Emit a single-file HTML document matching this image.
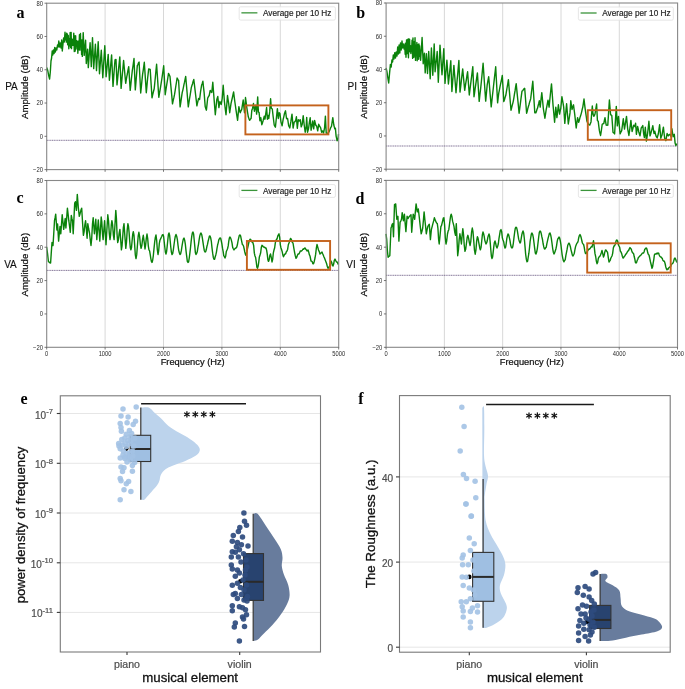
<!DOCTYPE html>
<html><head><meta charset="utf-8"><style>html,body{margin:0;padding:0;background:#fff;}svg{display:block;will-change:transform;}</style></head><body>
<svg width="685" height="689" viewBox="0 0 685 689" font-family="&quot;Liberation Sans&quot;, sans-serif">
<rect width="685" height="689" fill="#fff"/>
<line x1="105.10" y1="3.2" x2="105.10" y2="169.6" stroke="#d4d4d4" stroke-width="0.9"/>
<line x1="163.50" y1="3.2" x2="163.50" y2="169.6" stroke="#d4d4d4" stroke-width="0.9"/>
<line x1="221.90" y1="3.2" x2="221.90" y2="169.6" stroke="#d4d4d4" stroke-width="0.9"/>
<line x1="280.30" y1="3.2" x2="280.30" y2="169.6" stroke="#d4d4d4" stroke-width="0.9"/>
<line x1="46.7" y1="140.3" x2="338.7" y2="140.3" stroke="#6f5f86" stroke-width="0.85" stroke-dasharray="1.2,0.55"/>
<polyline points="46.70,67.50 47.60,70.00 48.80,76.00 49.60,79.00 50.30,72.00 51.00,61.00 51.60,58.00 52.20,51.00 52.80,55.00 53.40,50.00 54.10,53.50 54.70,47.50 55.40,52.00 56.00,48.00 56.80,50.00 57.50,45.00 58.20,47.00 58.80,41.00 59.60,47.00 60.30,43.00 61.00,48.00 61.70,40.00 62.30,51.00 63.00,44.00 63.60,38.00 64.30,42.00 65.00,32.30 65.70,40.00 66.00,35.46 66.31,42.17 66.67,33.12 67.13,41.97 67.35,33.97 67.67,44.82 68.27,35.52 68.81,48.73 69.27,38.58 69.73,45.74 70.15,32.53 70.63,47.44 71.13,32.35 71.47,48.64 72.02,39.38 72.51,45.24 73.00,38.90 73.37,45.32 73.76,33.13 74.32,51.61 74.59,36.07 75.17,51.16 75.63,35.77 76.05,48.98 76.40,40.35 76.84,46.21 77.32,41.26 77.86,53.19 78.34,41.22 78.89,49.90 79.45,34.68 79.94,50.16 80.48,33.45 80.81,46.61 81.35,40.26 81.60,54.49 81.98,40.07 82.31,56.42 83.20,32.60 84.20,55.40 84.90,47.60 85.60,40.20 86.30,63.50 86.95,56.51 87.60,49.30 88.30,67.60 88.90,59.38 89.50,50.99 90.10,42.70 90.70,54.48 91.30,66.60 91.90,52.28 92.50,37.60 93.10,53.28 93.70,68.60 94.27,60.47 94.83,52.34 95.40,44.20 96.50,70.60 97.07,60.81 97.63,51.04 98.20,41.70 98.85,57.62 99.50,73.70 100.10,65.95 100.70,57.84 101.30,50.30 102.05,64.18 102.80,77.70 103.47,66.91 104.13,56.27 104.80,45.80 105.45,60.98 106.10,76.70 106.80,69.57 107.50,61.98 108.20,54.40 108.80,67.58 109.40,80.30 110.13,71.90 110.87,63.09 111.60,54.90 112.30,70.55 113.00,86.40 113.67,77.60 114.33,68.57 115.00,60.00 116.00,59.50 117.00,84.90 117.56,79.57 118.12,73.62 118.68,67.89 119.24,62.69 119.80,56.90 120.45,72.42 121.10,88.40 121.72,81.68 122.35,74.42 122.97,67.51 123.60,60.50 124.30,68.01 125.00,75.69 125.70,83.30 126.25,79.94 126.80,76.67 127.35,73.99 127.90,70.60 128.70,66.60 129.45,78.34 130.20,90.40 130.90,83.97 131.60,77.03 132.30,70.60 132.87,66.85 133.43,62.77 134.00,58.50 134.65,74.35 135.30,89.90 135.97,81.96 136.63,73.75 137.30,65.60 137.90,64.54 138.50,62.97 139.10,62.00 139.90,77.49 140.70,93.00 141.33,87.00 141.97,80.42 142.60,74.40 143.17,70.62 143.73,66.57 144.30,62.30 144.97,72.38 145.63,82.49 146.30,92.70 146.95,85.57 147.60,78.50 148.70,68.90 149.45,69.08 150.20,69.40 150.80,79.16 151.40,88.27 152.00,97.80 152.73,94.48 153.47,91.49 154.20,88.70 154.80,82.73 155.40,76.80 156.00,70.40 156.60,64.30 157.15,72.54 157.70,80.83 158.25,89.20 158.80,97.30 159.55,92.83 160.30,88.70 161.10,83.67 161.90,78.50 162.50,74.30 163.10,70.11 163.70,65.80 164.45,80.06 165.20,94.70 165.77,90.80 166.33,87.21 166.90,83.60 167.70,78.76 168.50,73.40 169.25,74.86 170.00,76.50 170.62,83.41 171.25,90.08 171.88,96.81 172.50,103.90 173.17,100.57 173.83,97.95 174.50,94.70 175.15,90.69 175.80,86.27 176.45,82.29 177.10,78.00 177.85,79.36 178.60,80.50 179.35,93.94 180.10,106.90 180.80,102.44 181.50,97.38 182.20,92.70 182.78,90.29 183.37,87.58 183.95,84.65 184.53,82.13 185.12,79.19 185.70,76.50 186.35,84.03 187.00,91.55 187.65,99.53 188.30,106.90 188.90,102.84 189.50,98.92 190.10,95.50 190.70,91.62 191.30,87.60 191.93,85.56 192.55,83.75 193.18,81.26 193.80,79.50 194.42,84.63 195.04,89.93 195.66,95.29 196.28,100.42 196.90,105.90 197.47,103.18 198.03,100.87 198.60,98.50 199.60,99.50 200.60,91.40 201.60,85.30 202.25,83.49 202.90,81.20 203.50,87.09 204.10,92.40 205.20,106.60 205.80,108.55 206.40,110.20 207.05,104.09 207.70,98.00 208.45,96.60 209.20,95.50 210.20,90.40 211.00,91.68 211.80,92.40 212.80,82.30 213.80,95.50 214.55,105.12 215.30,114.70 216.05,107.24 216.80,99.50 217.80,96.50 218.90,107.60 219.90,101.50 220.55,102.77 221.20,104.60 222.20,98.50 223.20,85.30 223.80,93.23 224.40,101.50 225.20,108.30 226.00,114.70 226.75,105.28 227.50,95.50 228.10,99.78 228.70,103.60 229.70,112.70 230.35,108.21 231.00,103.60 231.70,100.51 232.40,97.50 233.00,94.75 233.60,91.90 234.20,96.91 234.80,101.50 235.45,105.98 236.10,110.70 236.85,115.52 237.60,120.30 238.25,113.32 238.90,106.60 239.55,109.81 240.20,112.70 240.95,110.91 241.70,109.70 242.45,104.96 243.20,100.00 243.85,106.62 244.50,112.70 245.50,97.50 246.15,102.26 246.80,107.60 247.55,112.26 248.30,116.80 248.95,118.64 249.60,120.30 250.50,118.80 251.10,118.50 251.80,110.40 252.60,108.20 253.50,103.50 254.40,111.20 255.10,107.50 255.80,105.30 256.60,114.10 257.70,96.90 258.40,111.90 259.10,112.60 259.90,120.70 260.80,117.70 261.80,124.70 262.45,122.91 263.10,120.70 264.20,116.30 265.00,119.20 265.70,114.10 266.60,107.50 267.40,119.20 268.10,115.50 268.80,118.50 269.70,111.90 270.60,98.80 271.30,108.20 272.30,109.00 273.20,117.00 274.20,125.00 274.80,126.15 275.40,127.20 276.40,117.70 277.40,108.60 278.30,118.50 279.20,112.60 279.90,113.40 280.45,117.60 281.00,122.10 281.55,123.89 282.10,125.80 283.20,119.20 283.85,116.58 284.50,113.40 285.50,110.80 286.50,118.50 287.05,118.74 287.60,118.50 288.70,125.80 289.25,126.68 289.80,128.00 290.90,121.40 291.45,117.51 292.00,114.10 292.55,120.81 293.10,128.00 294.20,122.10 295.00,121.70 295.70,120.40 296.40,116.80 297.30,128.30 298.30,119.70 299.30,121.00 300.30,119.70 301.20,126.90 302.20,124.30 303.20,115.80 304.20,125.00 305.20,132.20 306.20,126.30 306.70,117.40 307.50,132.20 308.50,128.90 309.50,121.70 310.20,117.70 311.10,130.20 312.10,125.00 312.70,121.00 313.70,128.90 314.60,120.40 315.70,125.00 316.70,126.30 317.70,130.90 318.70,124.30 319.60,126.30 320.60,127.60 321.60,132.20 322.60,130.90 323.60,132.90 324.60,127.60 325.40,116.10 326.20,132.90 327.20,133.50 328.20,132.90 329.20,131.50 330.20,128.90 330.85,127.32 331.50,126.30 332.15,121.97 332.80,117.70 333.80,125.00 334.80,128.90 335.40,128.30 336.10,136.10 337.10,140.70 338.00,138.80 338.50,134.20" fill="none" stroke="#0a820a" stroke-width="1.4" stroke-linejoin="round"/>
<rect x="245.4" y="105.4" width="83.00" height="29.00" fill="none" stroke="#c4621c" stroke-width="1.9"/>
<rect x="46.7" y="3.2" width="292.00" height="166.40" fill="none" stroke="#888888" stroke-width="1.1"/>
<line x1="44.50" y1="169.60" x2="46.7" y2="169.60" stroke="#555" stroke-width="0.8"/>
<text transform="translate(43.00,171.95) scale(1,1.12)" font-size="5.9" text-anchor="end" fill="#2a2a2a">−20</text>
<line x1="44.50" y1="136.32" x2="46.7" y2="136.32" stroke="#555" stroke-width="0.8"/>
<text transform="translate(43.00,138.67) scale(1,1.12)" font-size="5.9" text-anchor="end" fill="#2a2a2a">0</text>
<line x1="44.50" y1="103.04" x2="46.7" y2="103.04" stroke="#555" stroke-width="0.8"/>
<text transform="translate(43.00,105.39) scale(1,1.12)" font-size="5.9" text-anchor="end" fill="#2a2a2a">20</text>
<line x1="44.50" y1="69.76" x2="46.7" y2="69.76" stroke="#555" stroke-width="0.8"/>
<text transform="translate(43.00,72.11) scale(1,1.12)" font-size="5.9" text-anchor="end" fill="#2a2a2a">40</text>
<line x1="44.50" y1="36.48" x2="46.7" y2="36.48" stroke="#555" stroke-width="0.8"/>
<text transform="translate(43.00,38.83) scale(1,1.12)" font-size="5.9" text-anchor="end" fill="#2a2a2a">60</text>
<line x1="44.50" y1="3.20" x2="46.7" y2="3.20" stroke="#555" stroke-width="0.8"/>
<text transform="translate(43.00,5.55) scale(1,1.12)" font-size="5.9" text-anchor="end" fill="#2a2a2a">80</text>
<line x1="46.70" y1="169.6" x2="46.70" y2="171.80" stroke="#555" stroke-width="0.8"/>
<line x1="105.10" y1="169.6" x2="105.10" y2="171.80" stroke="#555" stroke-width="0.8"/>
<line x1="163.50" y1="169.6" x2="163.50" y2="171.80" stroke="#555" stroke-width="0.8"/>
<line x1="221.90" y1="169.6" x2="221.90" y2="171.80" stroke="#555" stroke-width="0.8"/>
<line x1="280.30" y1="169.6" x2="280.30" y2="171.80" stroke="#555" stroke-width="0.8"/>
<line x1="338.70" y1="169.6" x2="338.70" y2="171.80" stroke="#555" stroke-width="0.8"/>
<text transform="translate(27.8,87.20) rotate(-90)" font-size="9.65" text-anchor="middle" fill="#111" stroke="#111" stroke-width="0.22">Amplitude (dB)</text>
<rect x="239.2" y="6.8" width="96.20" height="13.30" rx="1.5" fill="#fff" fill-opacity="0.85" stroke="#e0e0e0" stroke-width="0.8"/>
<line x1="241.40" y1="12.85" x2="257.40" y2="12.85" stroke="#3a943a" stroke-width="1.3"/>
<text x="263.00" y="16.20" font-size="8.5" fill="#222" stroke="#222" stroke-width="0.18" textLength="68.4" lengthAdjust="spacingAndGlyphs">Average per 10 Hz</text>
<text x="16.6" y="17.9" font-family="&quot;Liberation Serif&quot;, serif" font-weight="bold" font-size="16" fill="#000">a</text>
<text x="5.2" y="90.00" font-size="10" fill="#111" stroke="#111" stroke-width="0.12">PA</text>
<line x1="444.40" y1="3.0" x2="444.40" y2="169.2" stroke="#d4d4d4" stroke-width="0.9"/>
<line x1="502.70" y1="3.0" x2="502.70" y2="169.2" stroke="#d4d4d4" stroke-width="0.9"/>
<line x1="561.00" y1="3.0" x2="561.00" y2="169.2" stroke="#d4d4d4" stroke-width="0.9"/>
<line x1="619.30" y1="3.0" x2="619.30" y2="169.2" stroke="#d4d4d4" stroke-width="0.9"/>
<line x1="386.1" y1="146.0" x2="677.6" y2="146.0" stroke="#6f5f86" stroke-width="0.85" stroke-dasharray="1.2,0.55"/>
<polyline points="386.10,67.90 387.00,72.00 388.00,79.00 388.70,83.00 389.50,74.00 390.40,64.40 391.20,67.00 391.90,60.00 392.60,62.00 393.30,55.00 394.00,59.00 394.80,52.70 395.50,58.00 396.20,52.00 397.00,56.00 397.70,47.00 398.40,54.00 399.10,45.00 399.80,53.00 400.50,43.00 401.20,50.00 402.00,41.00 402.70,48.00 403.40,44.00 403.70,44.20 404.16,49.09 404.68,45.31 405.18,54.31 405.41,43.19 405.99,57.33 406.55,39.89 406.95,53.75 407.38,39.60 407.60,51.00 407.93,39.10 408.44,57.69 408.96,38.75 409.42,51.62 409.64,39.47 409.94,51.68 410.53,45.94 410.86,53.51 411.28,45.79 411.58,51.06 412.07,40.08 412.62,58.41 412.98,37.93 413.26,54.58 413.59,43.48 413.81,57.36 414.16,41.67 414.69,55.95 415.03,37.70 415.52,60.42 416.11,45.08 416.62,53.38 416.84,42.55 417.20,60.74 417.43,45.54 417.71,53.60 418.01,44.56 418.58,59.34 418.93,43.89 419.35,56.29 419.61,45.81 420.14,55.33 420.60,60.20 421.35,49.12 422.10,37.50 423.20,63.70 423.80,58.23 424.40,53.20 425.20,72.90 425.80,63.06 426.40,53.80 426.95,63.95 427.50,73.50 428.10,62.31 428.70,51.50 429.45,64.87 430.20,78.70 430.80,63.44 431.40,48.00 432.10,61.56 432.80,75.30 433.50,59.83 434.20,43.90 435.10,71.80 435.80,64.87 436.50,58.54 437.20,51.50 437.75,66.74 438.30,82.20 438.87,69.89 439.43,57.73 440.00,45.10 440.67,55.08 441.33,65.09 442.00,74.70 442.60,66.12 443.20,57.03 443.80,48.60 444.40,66.23 445.00,83.40 445.63,75.72 446.27,67.82 446.90,60.20 447.65,71.91 448.40,84.00 449.00,78.41 449.60,72.45 450.20,66.86 450.80,60.80 451.90,91.50 452.57,82.96 453.23,74.38 453.90,65.40 454.60,74.54 455.30,83.72 456.00,92.70 456.58,86.31 457.16,79.64 457.74,73.59 458.32,66.75 458.90,60.40 459.45,76.42 460.00,92.10 460.68,86.57 461.35,80.59 462.02,74.49 462.70,68.90 463.37,76.23 464.03,83.27 464.70,90.30 465.28,86.41 465.86,82.63 466.44,79.22 467.02,75.22 467.60,71.80 468.17,79.79 468.73,87.27 469.30,95.00 469.88,90.28 470.47,85.48 471.05,80.90 471.63,76.32 472.22,71.22 472.80,66.60 473.40,81.57 474.00,96.70 474.57,92.78 475.13,88.65 475.70,84.86 476.27,80.86 476.83,76.83 477.40,72.90 478.00,82.50 478.60,91.92 479.20,101.40 479.93,94.45 480.67,88.30 481.40,81.30 481.97,75.21 482.53,69.26 483.10,63.30 483.75,72.69 484.40,82.46 485.05,91.92 485.70,101.10 486.45,92.96 487.20,84.80 487.95,80.69 488.70,76.70 489.32,84.01 489.95,92.04 490.57,99.15 491.20,106.90 491.76,101.92 492.32,96.78 492.89,91.76 493.45,86.76 494.01,81.65 494.57,76.55 495.14,71.83 495.70,66.80 496.33,78.98 496.97,90.89 497.60,102.80 498.20,97.67 498.80,92.90 499.38,90.12 499.97,86.83 500.55,84.15 501.13,81.50 501.72,78.65 502.30,75.50 503.05,88.53 503.80,101.60 504.47,99.71 505.13,97.40 505.80,95.30 506.45,91.39 507.10,87.50 507.75,83.82 508.40,79.60 509.05,87.42 509.70,94.93 510.35,102.76 511.00,110.30 511.57,108.09 512.15,105.61 512.72,103.57 513.30,101.10 513.88,97.81 514.46,94.21 515.04,90.93 515.62,86.89 516.20,83.70 516.78,89.60 517.36,95.58 517.94,101.30 518.52,107.10 519.10,113.20 519.68,108.92 520.26,104.36 520.84,99.86 521.42,95.33 522.00,91.20 522.67,90.76 523.35,89.66 524.03,88.80 524.70,88.30 525.33,96.43 525.97,104.75 526.60,113.20 527.20,111.24 527.80,108.66 528.40,106.54 529.00,104.50 529.57,102.33 530.13,100.62 530.70,98.70 531.40,92.72 532.10,87.01 532.80,81.30 533.47,91.91 534.13,102.49 534.80,112.70 535.80,112.90 536.37,111.57 536.93,109.56 537.50,108.30 538.10,105.73 538.70,103.51 539.30,100.80 540.20,107.10 541.00,99.57 541.80,92.60 542.55,100.27 543.30,108.30 544.10,113.24 544.90,118.20 545.55,113.78 546.20,109.50 546.80,106.55 547.40,103.43 548.00,100.20 548.55,103.63 549.10,107.10 549.70,100.90 550.30,95.00 550.90,89.29 551.50,83.90 552.25,94.21 553.00,104.80 553.80,113.24 554.60,122.20 555.20,114.75 555.80,107.10 556.35,112.14 556.90,117.60 557.65,111.43 558.40,104.80 559.00,109.54 559.60,114.10 560.20,110.93 560.80,108.30 561.35,102.50 561.90,96.70 562.50,100.23 563.10,103.36 563.70,107.10 564.80,123.40 565.40,116.83 566.00,109.98 566.60,103.70 567.17,110.63 567.73,116.94 568.30,124.00 568.87,120.38 569.43,116.89 570.00,112.90 570.80,100.80 571.40,105.36 572.00,109.50 572.75,106.99 573.50,104.80 574.10,109.47 574.70,114.10 575.45,120.83 576.20,128.00 576.90,122.71 577.60,117.60 578.15,120.12 578.70,122.20 579.30,120.37 579.90,117.86 580.50,116.05 581.10,114.10 581.67,111.85 582.23,109.24 582.80,107.10 583.40,103.23 584.00,99.00 584.55,103.89 585.10,108.30 585.70,112.60 586.30,116.75 586.90,121.10 587.47,122.44 588.03,123.37 588.60,124.50 589.20,124.61 589.80,125.10 590.40,123.37 591.00,121.90 591.65,113.75 592.30,106.00 593.00,114.00 593.80,116.40 594.40,115.40 595.00,114.00 595.80,109.01 596.60,104.00 597.40,120.40 598.20,121.20 598.80,126.07 599.40,130.70 600.00,133.29 600.60,135.50 601.40,130.18 602.20,124.30 603.00,123.71 603.80,123.50 604.40,120.49 605.00,117.60 605.60,121.57 606.20,125.10 607.00,125.26 607.80,125.10 608.60,112.48 609.40,100.00 610.00,107.49 610.60,114.80 611.20,115.02 611.80,115.60 612.40,123.75 613.00,132.30 613.80,132.83 614.60,133.90 615.17,124.66 615.73,115.41 616.30,106.40 617.30,125.90 617.90,121.16 618.50,116.40 619.30,125.43 620.10,133.90 620.90,132.09 621.70,130.70 622.50,124.78 623.30,118.80 623.90,124.17 624.50,129.10 625.17,124.93 625.83,120.65 626.50,116.40 627.10,122.91 627.70,129.10 628.30,132.01 628.90,135.50 629.57,130.74 630.23,125.55 630.90,120.40 631.50,126.13 632.10,131.50 632.90,128.50 633.70,125.10 634.35,125.66 635.00,126.70 635.60,123.20 636.40,134.30 637.00,130.09 637.60,126.40 638.20,129.01 638.80,132.00 639.40,133.95 640.00,135.90 640.60,132.21 641.20,128.00 642.00,127.05 642.80,125.60 643.60,133.50 644.40,137.50 645.30,127.20 645.85,134.10 646.40,141.10 647.00,137.37 647.60,133.50 648.25,127.49 648.90,121.20 649.45,128.45 650.00,135.90 650.60,134.23 651.20,132.00 652.00,129.07 652.80,125.60 653.40,129.69 654.00,133.50 654.80,131.20 655.40,133.79 656.00,135.90 656.60,137.08 657.20,137.90 657.80,135.79 658.40,133.50 659.00,129.04 659.60,124.80 660.20,131.42 660.80,138.30 661.40,136.54 662.00,135.10 662.70,130.88 663.40,127.20 664.05,133.01 664.70,138.30 665.30,139.38 665.90,140.70 666.50,136.81 667.10,133.50 667.70,134.59 668.30,135.90 669.10,134.86 669.90,134.30 670.50,135.47 671.10,136.70 671.90,128.80 672.50,132.65 673.10,136.70 673.70,135.31 674.30,134.30 675.10,143.10 675.90,145.50 676.50,144.49 677.10,143.50" fill="none" stroke="#0a820a" stroke-width="1.4" stroke-linejoin="round"/>
<rect x="587.8" y="110.2" width="83.40" height="29.60" fill="none" stroke="#c4621c" stroke-width="1.9"/>
<rect x="386.1" y="3.0" width="291.50" height="166.20" fill="none" stroke="#888888" stroke-width="1.1"/>
<line x1="383.90" y1="169.20" x2="386.1" y2="169.20" stroke="#555" stroke-width="0.8"/>
<text transform="translate(382.40,171.55) scale(1,1.12)" font-size="5.9" text-anchor="end" fill="#2a2a2a">−20</text>
<line x1="383.90" y1="135.96" x2="386.1" y2="135.96" stroke="#555" stroke-width="0.8"/>
<text transform="translate(382.40,138.31) scale(1,1.12)" font-size="5.9" text-anchor="end" fill="#2a2a2a">0</text>
<line x1="383.90" y1="102.72" x2="386.1" y2="102.72" stroke="#555" stroke-width="0.8"/>
<text transform="translate(382.40,105.07) scale(1,1.12)" font-size="5.9" text-anchor="end" fill="#2a2a2a">20</text>
<line x1="383.90" y1="69.48" x2="386.1" y2="69.48" stroke="#555" stroke-width="0.8"/>
<text transform="translate(382.40,71.83) scale(1,1.12)" font-size="5.9" text-anchor="end" fill="#2a2a2a">40</text>
<line x1="383.90" y1="36.24" x2="386.1" y2="36.24" stroke="#555" stroke-width="0.8"/>
<text transform="translate(382.40,38.59) scale(1,1.12)" font-size="5.9" text-anchor="end" fill="#2a2a2a">60</text>
<line x1="383.90" y1="3.00" x2="386.1" y2="3.00" stroke="#555" stroke-width="0.8"/>
<text transform="translate(382.40,5.35) scale(1,1.12)" font-size="5.9" text-anchor="end" fill="#2a2a2a">80</text>
<line x1="386.10" y1="169.2" x2="386.10" y2="171.40" stroke="#555" stroke-width="0.8"/>
<line x1="444.40" y1="169.2" x2="444.40" y2="171.40" stroke="#555" stroke-width="0.8"/>
<line x1="502.70" y1="169.2" x2="502.70" y2="171.40" stroke="#555" stroke-width="0.8"/>
<line x1="561.00" y1="169.2" x2="561.00" y2="171.40" stroke="#555" stroke-width="0.8"/>
<line x1="619.30" y1="169.2" x2="619.30" y2="171.40" stroke="#555" stroke-width="0.8"/>
<line x1="677.60" y1="169.2" x2="677.60" y2="171.40" stroke="#555" stroke-width="0.8"/>
<text transform="translate(367.2,86.90) rotate(-90)" font-size="9.65" text-anchor="middle" fill="#111" stroke="#111" stroke-width="0.22">Amplitude (dB)</text>
<rect x="578.4" y="7.0" width="94.90" height="13.20" rx="1.5" fill="#fff" fill-opacity="0.85" stroke="#e0e0e0" stroke-width="0.8"/>
<line x1="580.60" y1="13.00" x2="596.60" y2="13.00" stroke="#3a943a" stroke-width="1.3"/>
<text x="602.20" y="16.35" font-size="8.5" fill="#222" stroke="#222" stroke-width="0.18" textLength="68.4" lengthAdjust="spacingAndGlyphs">Average per 10 Hz</text>
<text x="356.2" y="17.5" font-family="&quot;Liberation Serif&quot;, serif" font-weight="bold" font-size="16" fill="#000">b</text>
<text x="347.6" y="90.20" font-size="10" fill="#111" stroke="#111" stroke-width="0.12">PI</text>
<line x1="105.10" y1="180.5" x2="105.10" y2="347.3" stroke="#d4d4d4" stroke-width="0.9"/>
<line x1="163.50" y1="180.5" x2="163.50" y2="347.3" stroke="#d4d4d4" stroke-width="0.9"/>
<line x1="221.90" y1="180.5" x2="221.90" y2="347.3" stroke="#d4d4d4" stroke-width="0.9"/>
<line x1="280.30" y1="180.5" x2="280.30" y2="347.3" stroke="#d4d4d4" stroke-width="0.9"/>
<line x1="46.7" y1="270.4" x2="338.7" y2="270.4" stroke="#6f5f86" stroke-width="0.85" stroke-dasharray="1.2,0.55"/>
<polyline points="46.60,246.90 47.60,254.20 48.40,261.50 49.50,262.50 50.60,263.00 51.30,252.38 52.00,242.50 53.00,245.50 53.75,233.45 54.50,220.70 55.10,217.66 55.70,214.10 56.30,222.00 56.90,230.00 57.60,224.00 58.60,241.10 59.30,233.56 60.00,226.50 60.80,233.80 61.50,224.30 62.20,214.80 62.95,222.05 63.70,229.40 64.45,224.10 65.20,218.50 65.90,228.00 66.65,218.39 67.40,208.20 68.10,214.04 68.80,220.70 69.55,226.03 70.30,232.30 71.30,215.50 71.90,218.44 72.50,220.70 73.20,233.80 73.95,218.38 74.70,203.10 75.40,201.70 76.40,210.40 77.30,194.40 78.30,207.50 79.30,216.30 79.90,214.36 80.50,211.90 81.10,209.55 81.70,208.20 82.70,225.00 83.40,235.30 84.13,231.60 84.87,224.57 85.60,220.70 86.35,229.18 87.10,238.20 87.80,223.60 88.65,228.75 89.50,233.00 90.25,239.65 91.00,245.50 91.73,238.08 92.47,224.18 93.20,217.70 93.80,225.79 94.40,233.80 95.10,226.94 95.80,219.20 96.80,239.60 97.55,229.63 98.30,219.90 99.05,230.22 99.80,241.10 100.50,228.97 101.20,217.00 101.83,222.18 102.47,233.67 103.10,239.60 103.85,230.09 104.60,220.70 105.30,232.70 106.00,244.70 106.90,229.48 107.80,214.80 108.53,220.73 109.27,233.12 110.00,239.60 110.63,234.83 111.27,225.21 111.90,220.70 112.63,224.95 113.37,235.21 114.10,239.60 114.95,225.06 115.80,210.40 116.43,218.59 117.07,234.24 117.70,242.60 118.43,239.79 119.17,233.06 119.90,229.40 120.65,239.27 121.40,249.90 122.05,245.88 122.70,236.97 123.35,227.66 124.00,223.60 124.90,236.44 125.80,248.40 126.50,242.12 127.20,230.13 127.90,223.60 128.50,226.28 129.10,232.49 129.70,240.90 130.30,247.77 130.90,249.90 131.50,247.57 132.10,240.76 132.70,234.37 133.30,231.60 133.98,235.09 134.65,244.84 135.32,254.94 136.00,258.60 136.72,254.66 137.45,245.12 138.18,236.20 138.90,232.30 139.63,236.53 140.37,244.55 141.10,248.40 141.83,245.67 142.57,239.11 143.30,235.30 144.15,241.62 145.00,249.00 145.67,244.75 146.33,238.15 147.00,234.00 147.67,238.28 148.33,246.20 149.00,250.00 149.60,250.96 150.20,254.45 150.80,258.31 151.40,261.40 152.00,262.50 152.67,260.25 153.33,255.54 154.00,248.62 154.67,242.14 155.33,237.44 156.00,235.00 156.67,240.41 157.33,249.68 158.00,254.50 158.67,250.81 159.33,243.35 160.00,240.00 160.60,238.92 161.20,237.53 161.80,236.36 162.40,234.81 163.00,234.50 163.60,236.22 164.20,241.71 164.80,247.29 165.40,252.21 166.00,254.00 166.60,251.68 167.20,246.17 167.80,240.05 168.40,234.57 169.00,233.00 169.60,235.07 170.20,241.03 170.80,247.28 171.40,252.07 172.00,254.50 172.67,253.63 173.33,249.86 174.00,244.78 174.67,239.99 175.33,236.16 176.00,234.50 176.67,236.19 177.33,239.32 178.00,245.08 178.67,250.05 179.33,252.75 180.00,254.50 180.67,253.70 181.33,250.63 182.00,246.20 182.67,242.16 183.33,239.09 184.00,238.00 184.67,240.15 185.33,244.13 186.00,250.65 186.67,256.20 187.33,261.32 188.00,262.50 188.62,261.82 189.25,257.99 189.88,253.17 190.50,247.75 191.12,241.68 191.75,236.45 192.38,232.83 193.00,232.00 193.60,233.94 194.20,240.01 194.80,246.33 195.40,252.84 196.00,254.50 196.62,253.40 197.25,251.85 197.88,247.64 198.50,244.30 199.12,239.88 199.75,236.15 200.38,233.84 201.00,233.00 201.67,234.45 202.33,237.86 203.00,242.27 203.67,246.90 204.33,250.74 205.00,252.00 205.62,251.91 206.25,249.80 206.88,246.55 207.50,244.38 208.12,241.21 208.75,238.83 209.38,236.24 210.00,236.00 210.67,237.85 211.33,241.30 212.00,247.83 212.67,253.20 213.33,257.41 214.00,259.30 214.60,259.23 215.20,256.79 215.80,254.94 216.40,252.37 217.00,248.34 217.60,245.01 218.20,242.85 218.80,239.94 219.40,238.78 220.00,238.00 220.62,238.20 221.25,240.76 221.88,243.78 222.50,248.21 223.12,251.33 223.75,255.62 224.38,256.67 225.00,258.00 225.67,256.28 226.33,251.43 227.00,250.00 227.60,248.47 228.20,245.88 228.80,241.08 229.40,237.86 230.00,237.00 230.67,238.10 231.33,240.11 232.00,242.95 232.67,247.34 233.33,248.71 234.00,250.00 234.67,248.94 235.33,248.31 236.00,248.00 236.67,247.27 237.33,245.04 238.00,241.04 238.67,238.05 239.33,235.31 240.00,235.00 240.60,235.89 241.20,238.77 241.80,241.83 242.40,244.53 243.00,245.00 243.60,246.29 244.20,248.99 244.80,251.99 245.40,254.28 246.00,255.30 248.67,243.24 249.33,240.70 250.00,239.20 250.60,239.41 251.20,240.64 251.80,241.84 252.40,242.12 253.00,243.00 253.67,245.67 254.33,253.15 255.00,256.00 255.62,257.51 256.25,261.83 256.88,267.09 257.50,268.30 258.12,266.32 258.75,262.05 259.38,256.92 260.00,255.00 260.67,252.74 261.33,247.31 262.00,245.30 262.67,245.89 263.33,247.02 264.00,247.00 264.67,247.28 265.33,248.04 266.00,248.00 266.62,250.17 267.25,254.18 267.88,259.75 268.50,261.40 269.17,259.66 269.83,255.61 270.50,254.00 271.25,257.44 272.00,262.00 272.67,259.44 273.33,252.97 274.00,250.00 274.67,247.76 275.33,242.95 276.00,240.00 276.60,239.66 277.20,238.36 277.80,235.82 278.40,234.75 279.00,233.80 279.67,237.28 280.33,244.97 281.00,248.00 281.62,249.74 282.25,251.92 282.88,255.07 283.50,256.80 284.25,255.06 285.00,254.00 285.67,253.81 286.33,251.67 287.00,251.00 287.67,249.15 288.33,244.76 289.00,243.00 289.75,240.71 290.50,238.40 291.12,238.94 291.75,240.52 292.38,242.43 293.00,243.00 293.75,247.60 294.50,252.00 295.25,255.64 296.00,258.30 296.67,257.44 297.33,255.59 298.00,254.00 298.60,254.14 299.20,253.55 299.80,252.24 300.40,250.88 301.00,251.00 301.67,250.93 302.33,250.06 303.00,249.00 303.67,249.24 304.33,248.33 305.00,248.00 305.67,249.01 306.33,249.90 307.00,251.00 308.00,250.00 308.67,251.90 309.33,254.59 310.00,256.00 311.00,261.00 311.62,261.14 312.25,261.83 312.88,263.73 313.50,263.70 314.25,261.44 315.00,258.00 315.67,254.13 316.33,248.24 317.00,244.50 317.75,247.14 318.50,250.00 319.25,251.58 320.00,254.00 320.67,253.25 321.33,252.82 322.00,252.00 322.67,253.70 323.33,255.20 324.00,257.00 324.67,258.39 325.33,260.20 326.00,262.00 326.67,263.84 327.33,266.52 328.00,268.30 328.75,267.61 329.50,266.00 330.25,264.08 331.00,261.00 331.67,262.26 332.33,265.35 333.00,266.00 333.67,264.02 334.33,260.24 335.00,259.00 335.75,260.62 336.50,262.00 337.17,262.06 337.83,263.51 338.50,264.50" fill="none" stroke="#0a820a" stroke-width="1.4" stroke-linejoin="round"/>
<rect x="246.9" y="241.0" width="83.20" height="28.80" fill="none" stroke="#c4621c" stroke-width="1.9"/>
<rect x="46.7" y="180.5" width="292.00" height="166.80" fill="none" stroke="#888888" stroke-width="1.1"/>
<line x1="44.50" y1="347.30" x2="46.7" y2="347.30" stroke="#555" stroke-width="0.8"/>
<text transform="translate(43.00,349.65) scale(1,1.12)" font-size="5.9" text-anchor="end" fill="#2a2a2a">−20</text>
<line x1="44.50" y1="313.94" x2="46.7" y2="313.94" stroke="#555" stroke-width="0.8"/>
<text transform="translate(43.00,316.29) scale(1,1.12)" font-size="5.9" text-anchor="end" fill="#2a2a2a">0</text>
<line x1="44.50" y1="280.58" x2="46.7" y2="280.58" stroke="#555" stroke-width="0.8"/>
<text transform="translate(43.00,282.93) scale(1,1.12)" font-size="5.9" text-anchor="end" fill="#2a2a2a">20</text>
<line x1="44.50" y1="247.22" x2="46.7" y2="247.22" stroke="#555" stroke-width="0.8"/>
<text transform="translate(43.00,249.57) scale(1,1.12)" font-size="5.9" text-anchor="end" fill="#2a2a2a">40</text>
<line x1="44.50" y1="213.86" x2="46.7" y2="213.86" stroke="#555" stroke-width="0.8"/>
<text transform="translate(43.00,216.21) scale(1,1.12)" font-size="5.9" text-anchor="end" fill="#2a2a2a">60</text>
<line x1="44.50" y1="180.50" x2="46.7" y2="180.50" stroke="#555" stroke-width="0.8"/>
<text transform="translate(43.00,182.85) scale(1,1.12)" font-size="5.9" text-anchor="end" fill="#2a2a2a">80</text>
<line x1="46.70" y1="347.3" x2="46.70" y2="349.50" stroke="#555" stroke-width="0.8"/>
<text transform="translate(46.70,356.10) scale(1,1.15)" font-size="5.8" text-anchor="middle" fill="#2a2a2a">0</text>
<line x1="105.10" y1="347.3" x2="105.10" y2="349.50" stroke="#555" stroke-width="0.8"/>
<text transform="translate(105.10,356.10) scale(1,1.15)" font-size="5.8" text-anchor="middle" fill="#2a2a2a">1000</text>
<line x1="163.50" y1="347.3" x2="163.50" y2="349.50" stroke="#555" stroke-width="0.8"/>
<text transform="translate(163.50,356.10) scale(1,1.15)" font-size="5.8" text-anchor="middle" fill="#2a2a2a">2000</text>
<line x1="221.90" y1="347.3" x2="221.90" y2="349.50" stroke="#555" stroke-width="0.8"/>
<text transform="translate(221.90,356.10) scale(1,1.15)" font-size="5.8" text-anchor="middle" fill="#2a2a2a">3000</text>
<line x1="280.30" y1="347.3" x2="280.30" y2="349.50" stroke="#555" stroke-width="0.8"/>
<text transform="translate(280.30,356.10) scale(1,1.15)" font-size="5.8" text-anchor="middle" fill="#2a2a2a">4000</text>
<line x1="338.70" y1="347.3" x2="338.70" y2="349.50" stroke="#555" stroke-width="0.8"/>
<text transform="translate(338.70,356.10) scale(1,1.15)" font-size="5.8" text-anchor="middle" fill="#2a2a2a">5000</text>
<text x="192.70" y="364.90" font-size="9.3" text-anchor="middle" fill="#111" stroke="#111" stroke-width="0.22">Frequency (Hz)</text>
<text transform="translate(27.8,264.70) rotate(-90)" font-size="9.65" text-anchor="middle" fill="#111" stroke="#111" stroke-width="0.22">Amplitude (dB)</text>
<rect x="239.2" y="184.6" width="96.20" height="12.80" rx="1.5" fill="#fff" fill-opacity="0.85" stroke="#e0e0e0" stroke-width="0.8"/>
<line x1="241.40" y1="190.40" x2="257.40" y2="190.40" stroke="#3a943a" stroke-width="1.3"/>
<text x="263.00" y="193.75" font-size="8.5" fill="#222" stroke="#222" stroke-width="0.18" textLength="68.4" lengthAdjust="spacingAndGlyphs">Average per 10 Hz</text>
<text x="16.4" y="203.3" font-family="&quot;Liberation Serif&quot;, serif" font-weight="bold" font-size="16" fill="#000">c</text>
<text x="4.2" y="268.20" font-size="10" fill="#111" stroke="#111" stroke-width="0.12">VA</text>
<line x1="444.38" y1="180.4" x2="444.38" y2="347.3" stroke="#d4d4d4" stroke-width="0.9"/>
<line x1="502.66" y1="180.4" x2="502.66" y2="347.3" stroke="#d4d4d4" stroke-width="0.9"/>
<line x1="560.94" y1="180.4" x2="560.94" y2="347.3" stroke="#d4d4d4" stroke-width="0.9"/>
<line x1="619.22" y1="180.4" x2="619.22" y2="347.3" stroke="#d4d4d4" stroke-width="0.9"/>
<line x1="386.1" y1="275.3" x2="677.5" y2="275.3" stroke="#6f5f86" stroke-width="0.85" stroke-dasharray="1.2,0.55"/>
<polyline points="386.00,233.80 386.70,239.39 387.40,250.95 388.10,257.20 388.95,256.35 389.80,255.70 391.00,228.00 391.60,226.55 392.20,224.27 392.80,223.60 393.50,236.70 394.50,204.60 395.70,203.90 396.80,219.20 397.90,216.30 398.90,241.10 399.50,231.50 400.10,222.10 400.80,221.07 401.50,219.20 402.20,212.60 403.40,220.70 404.40,214.10 405.15,223.15 405.90,231.60 406.50,224.22 407.10,216.30 408.10,218.50 408.80,217.12 409.50,216.30 410.25,215.59 411.00,214.80 411.70,232.30 412.45,222.98 413.20,214.10 413.95,216.32 414.70,219.20 415.40,211.16 416.10,203.90 417.30,211.90 418.30,209.00 419.05,215.26 419.80,222.10 420.50,228.38 421.20,233.80 421.95,231.23 422.70,228.00 423.40,220.26 424.10,211.90 424.85,219.50 425.60,226.50 426.30,233.80 427.05,229.84 427.80,226.50 428.55,225.21 429.30,224.30 430.40,239.60 431.40,229.40 432.15,226.63 432.90,223.60 433.65,220.88 434.40,217.70 435.10,219.90 435.80,221.40 436.55,222.88 437.30,223.60 437.93,228.29 438.57,239.01 439.20,244.00 440.05,235.42 440.90,226.50 441.50,225.67 442.10,223.14 442.70,220.71 443.30,218.13 443.90,217.70 444.60,224.71 445.30,237.79 446.00,244.00 446.73,240.77 447.47,233.98 448.20,230.90 448.80,229.70 449.40,225.17 450.00,220.29 450.60,216.05 451.20,214.10 451.90,216.48 452.60,221.14 453.30,223.60 454.03,226.62 454.77,232.31 455.50,235.30 456.30,223.60 457.00,239.31 457.70,255.70 458.43,250.03 459.17,239.59 459.90,233.80 460.65,238.44 461.40,244.00 462.10,235.90 462.80,228.70 463.53,234.48 464.27,245.43 465.00,251.30 465.73,248.99 466.45,243.27 467.17,237.49 467.90,235.30 468.63,238.35 469.37,242.65 470.10,245.50 470.83,241.04 471.57,232.08 472.30,228.00 473.02,231.97 473.75,240.88 474.48,250.22 475.20,254.20 475.93,250.07 476.67,240.90 477.40,236.70 478.00,238.02 478.60,241.66 479.20,244.94 479.80,248.20 480.40,249.90 481.05,247.43 481.70,241.24 482.35,234.98 483.00,232.00 483.60,233.68 484.20,236.43 484.80,240.36 485.40,242.29 486.00,244.00 486.60,243.00 487.20,241.08 487.80,237.63 488.40,235.44 489.00,234.00 489.60,235.88 490.20,242.43 490.80,249.73 491.40,256.21 492.00,258.50 492.60,256.92 493.20,251.87 493.80,246.71 494.40,242.41 495.00,241.00 495.67,243.25 496.33,246.57 497.00,248.00 497.67,246.36 498.33,243.76 499.00,238.37 499.67,234.34 500.33,230.38 501.00,229.60 501.67,231.60 502.33,237.85 503.00,240.00 503.67,241.65 504.33,245.66 505.00,248.00 505.60,247.24 506.20,243.61 506.80,238.58 507.40,235.89 508.00,234.00 508.67,234.98 509.33,237.71 510.00,240.65 510.67,245.03 511.33,247.29 512.00,248.00 512.67,247.17 513.33,243.27 514.00,237.36 514.67,232.23 515.33,228.19 516.00,227.20 516.67,227.83 517.33,230.63 518.00,234.86 518.67,239.17 519.33,241.35 520.00,243.00 520.60,242.07 521.20,238.66 521.80,234.92 522.40,232.53 523.00,231.00 523.67,233.04 524.33,238.48 525.00,246.38 525.67,254.35 526.33,259.21 527.00,261.80 527.62,261.27 528.25,257.01 528.88,253.21 529.50,247.81 530.12,241.31 530.75,237.56 531.38,233.94 532.00,233.00 532.67,234.50 533.33,237.66 534.00,242.96 534.67,248.37 535.33,253.14 536.00,254.00 536.67,252.10 537.33,248.56 538.00,243.02 538.67,237.28 539.33,232.35 540.00,231.00 540.62,231.51 541.25,233.67 541.88,236.89 542.50,239.53 543.12,243.74 543.75,246.72 544.38,248.75 545.00,249.00 545.62,247.83 546.25,247.19 546.88,243.57 547.50,240.81 548.12,238.07 548.75,235.84 549.38,233.42 550.00,233.00 550.67,234.92 551.33,238.30 552.00,243.27 552.67,248.53 553.33,252.21 554.00,254.00 554.62,252.85 555.25,251.09 555.88,248.98 556.50,246.10 557.12,241.84 557.75,238.95 558.38,238.23 559.00,237.00 559.62,237.98 560.25,240.52 560.88,244.34 561.50,249.51 562.12,254.54 562.75,258.11 563.38,260.76 564.00,261.80 564.62,260.55 565.25,259.55 565.88,255.44 566.50,252.39 567.12,249.21 567.75,245.31 568.38,243.99 569.00,243.00 569.67,244.41 570.33,246.41 571.00,249.85 571.67,252.28 572.33,255.05 573.00,256.00 573.67,254.71 574.33,253.16 575.00,249.25 575.67,246.19 576.33,244.47 577.00,243.00 577.60,242.62 578.20,240.67 578.80,237.45 579.40,235.39 580.00,234.60 580.60,235.77 581.20,237.82 581.80,240.50 582.40,242.99 583.00,244.00 583.60,244.50 584.20,247.20 584.80,250.93 585.40,253.33 586.00,253.70 588.25,249.85 589.00,249.00 589.60,249.20 590.20,248.29 590.80,247.40 591.40,246.59 592.00,247.00 592.75,244.05 593.50,240.70 594.25,247.16 595.00,253.70 595.67,256.51 596.33,261.05 597.00,263.70 597.67,262.35 598.33,258.40 599.00,257.00 599.75,256.36 600.50,255.00 601.25,253.03 602.00,250.50 602.75,253.65 603.50,257.00 604.17,255.30 604.83,251.97 605.50,250.00 606.17,250.13 606.83,251.56 607.50,252.00 608.25,257.37 609.00,262.00 609.60,261.15 610.20,260.29 610.80,258.30 611.40,256.99 612.00,256.00 612.67,253.30 613.33,248.01 614.00,246.00 614.60,245.79 615.20,244.29 615.80,242.01 616.40,240.09 617.00,240.00 617.67,241.14 618.33,244.66 619.00,246.00 619.67,247.25 620.33,251.04 621.00,252.00 621.67,253.61 622.33,256.14 623.00,258.00 623.60,257.80 624.20,256.45 624.80,255.90 625.40,254.87 626.00,254.00 626.67,253.27 627.33,251.92 628.00,251.00 628.67,250.39 629.33,248.82 630.00,247.60 630.60,248.69 631.20,248.90 631.80,250.97 632.40,252.61 633.00,253.00 633.60,253.71 634.20,256.53 634.80,258.99 635.40,262.41 636.00,262.90 636.60,262.37 637.20,260.40 637.80,259.23 638.40,257.34 639.00,257.00 639.67,256.14 640.33,255.48 641.00,255.00 641.67,254.07 642.33,253.15 643.00,253.00 643.60,252.96 644.20,251.51 644.80,249.14 645.40,248.81 646.00,248.00 646.60,248.09 647.20,250.22 647.80,253.07 648.40,254.48 649.00,255.00 649.75,258.27 650.50,262.00 651.25,265.00 652.00,268.30 652.60,266.80 653.20,262.91 653.80,259.54 654.40,254.83 655.00,254.00 655.60,253.81 656.20,253.95 656.80,253.22 657.40,253.67 658.00,253.00 658.60,253.08 659.20,254.96 659.80,256.09 660.40,256.82 661.00,257.00 661.60,257.85 662.20,258.32 662.80,260.02 663.40,260.97 664.00,261.00 664.60,261.86 665.20,264.01 665.80,267.01 666.40,268.85 667.00,269.80 667.60,269.04 668.20,269.13 668.80,267.69 669.40,267.25 670.00,267.00 670.67,266.59 671.33,264.36 672.00,264.00 673.00,263.00 673.67,261.18 674.33,258.80 675.00,258.00 675.67,259.23 676.33,261.21 677.00,262.50" fill="none" stroke="#0a820a" stroke-width="1.4" stroke-linejoin="round"/>
<rect x="587.2" y="243.3" width="83.50" height="29.30" fill="none" stroke="#c4621c" stroke-width="1.9"/>
<rect x="386.1" y="180.4" width="291.40" height="166.90" fill="none" stroke="#888888" stroke-width="1.1"/>
<line x1="383.90" y1="347.30" x2="386.1" y2="347.30" stroke="#555" stroke-width="0.8"/>
<text transform="translate(382.40,349.65) scale(1,1.12)" font-size="5.9" text-anchor="end" fill="#2a2a2a">−20</text>
<line x1="383.90" y1="313.92" x2="386.1" y2="313.92" stroke="#555" stroke-width="0.8"/>
<text transform="translate(382.40,316.27) scale(1,1.12)" font-size="5.9" text-anchor="end" fill="#2a2a2a">0</text>
<line x1="383.90" y1="280.54" x2="386.1" y2="280.54" stroke="#555" stroke-width="0.8"/>
<text transform="translate(382.40,282.89) scale(1,1.12)" font-size="5.9" text-anchor="end" fill="#2a2a2a">20</text>
<line x1="383.90" y1="247.16" x2="386.1" y2="247.16" stroke="#555" stroke-width="0.8"/>
<text transform="translate(382.40,249.51) scale(1,1.12)" font-size="5.9" text-anchor="end" fill="#2a2a2a">40</text>
<line x1="383.90" y1="213.78" x2="386.1" y2="213.78" stroke="#555" stroke-width="0.8"/>
<text transform="translate(382.40,216.13) scale(1,1.12)" font-size="5.9" text-anchor="end" fill="#2a2a2a">60</text>
<line x1="383.90" y1="180.40" x2="386.1" y2="180.40" stroke="#555" stroke-width="0.8"/>
<text transform="translate(382.40,182.75) scale(1,1.12)" font-size="5.9" text-anchor="end" fill="#2a2a2a">80</text>
<line x1="386.10" y1="347.3" x2="386.10" y2="349.50" stroke="#555" stroke-width="0.8"/>
<text transform="translate(386.10,356.10) scale(1,1.15)" font-size="5.8" text-anchor="middle" fill="#2a2a2a">0</text>
<line x1="444.38" y1="347.3" x2="444.38" y2="349.50" stroke="#555" stroke-width="0.8"/>
<text transform="translate(444.38,356.10) scale(1,1.15)" font-size="5.8" text-anchor="middle" fill="#2a2a2a">1000</text>
<line x1="502.66" y1="347.3" x2="502.66" y2="349.50" stroke="#555" stroke-width="0.8"/>
<text transform="translate(502.66,356.10) scale(1,1.15)" font-size="5.8" text-anchor="middle" fill="#2a2a2a">2000</text>
<line x1="560.94" y1="347.3" x2="560.94" y2="349.50" stroke="#555" stroke-width="0.8"/>
<text transform="translate(560.94,356.10) scale(1,1.15)" font-size="5.8" text-anchor="middle" fill="#2a2a2a">3000</text>
<line x1="619.22" y1="347.3" x2="619.22" y2="349.50" stroke="#555" stroke-width="0.8"/>
<text transform="translate(619.22,356.10) scale(1,1.15)" font-size="5.8" text-anchor="middle" fill="#2a2a2a">4000</text>
<line x1="677.50" y1="347.3" x2="677.50" y2="349.50" stroke="#555" stroke-width="0.8"/>
<text transform="translate(677.50,356.10) scale(1,1.15)" font-size="5.8" text-anchor="middle" fill="#2a2a2a">5000</text>
<text x="531.80" y="364.90" font-size="9.3" text-anchor="middle" fill="#111" stroke="#111" stroke-width="0.22">Frequency (Hz)</text>
<text transform="translate(367.2,264.65) rotate(-90)" font-size="9.65" text-anchor="middle" fill="#111" stroke="#111" stroke-width="0.22">Amplitude (dB)</text>
<rect x="578.4" y="184.6" width="94.90" height="12.80" rx="1.5" fill="#fff" fill-opacity="0.85" stroke="#e0e0e0" stroke-width="0.8"/>
<line x1="580.60" y1="190.40" x2="596.60" y2="190.40" stroke="#3a943a" stroke-width="1.3"/>
<text x="602.20" y="193.75" font-size="8.5" fill="#222" stroke="#222" stroke-width="0.18" textLength="68.4" lengthAdjust="spacingAndGlyphs">Average per 10 Hz</text>
<text x="355.4" y="203.9" font-family="&quot;Liberation Serif&quot;, serif" font-weight="bold" font-size="16" fill="#000">d</text>
<text x="346.3" y="267.80" font-size="10" fill="#111" stroke="#111" stroke-width="0.12">VI</text>
<line x1="60.3" y1="413.5" x2="320.5" y2="413.5" stroke="#e6e6e6" stroke-width="1"/>
<line x1="60.3" y1="463.3" x2="320.5" y2="463.3" stroke="#e6e6e6" stroke-width="1"/>
<line x1="60.3" y1="513.0" x2="320.5" y2="513.0" stroke="#e6e6e6" stroke-width="1"/>
<line x1="60.3" y1="562.8" x2="320.5" y2="562.8" stroke="#e6e6e6" stroke-width="1"/>
<line x1="60.3" y1="612.4" x2="320.5" y2="612.4" stroke="#e6e6e6" stroke-width="1"/>
<path d="M141.10,407.60 C142.37,407.60 146.42,406.70 148.70,407.60 C150.98,408.50 152.77,411.22 154.80,413.00 C156.83,414.78 158.62,416.15 160.90,418.30 C163.18,420.45 165.45,423.48 168.50,425.90 C171.55,428.32 175.63,430.63 179.20,432.80 C182.77,434.97 186.85,436.87 189.90,438.90 C192.95,440.93 195.85,443.10 197.50,445.00 C199.15,446.90 200.05,448.53 199.80,450.30 C199.55,452.07 198.42,453.82 196.00,455.60 C193.58,457.38 189.12,459.35 185.30,461.00 C181.48,462.65 176.40,464.12 173.10,465.50 C169.80,466.88 167.53,467.77 165.50,469.30 C163.47,470.83 161.92,472.78 160.90,474.70 C159.88,476.62 160.03,479.03 159.40,480.80 C158.77,482.57 158.37,483.53 157.10,485.30 C155.83,487.07 153.58,489.37 151.80,491.40 C150.02,493.43 147.68,496.10 146.40,497.50 C145.12,498.90 144.98,499.42 144.10,499.80 C143.22,500.18 141.60,499.80 141.10,499.80 Z" fill="#bcd3ec"/>
<path d="M253.40,513.80 C254.10,513.80 255.50,511.77 257.60,513.80 C259.70,515.83 263.18,521.85 266.00,526.00 C268.82,530.15 272.03,534.83 274.50,538.70 C276.97,542.57 279.47,546.05 280.80,549.20 C282.13,552.35 282.33,554.78 282.50,557.60 C282.67,560.42 281.57,563.28 281.80,566.10 C282.03,568.92 282.83,571.35 283.90,574.50 C284.97,577.65 287.25,581.50 288.20,585.00 C289.15,588.50 289.78,592.35 289.60,595.50 C289.42,598.65 288.57,600.73 287.10,603.90 C285.63,607.07 283.25,610.98 280.80,614.50 C278.35,618.02 275.22,621.85 272.40,625.00 C269.58,628.15 266.37,630.95 263.90,633.40 C261.43,635.85 259.35,638.47 257.60,639.70 C255.85,640.93 254.10,640.62 253.40,640.80 Z" fill="#687c9d"/>
<line x1="140.8" y1="407.6" x2="140.8" y2="499.8" stroke="#333333" stroke-width="1.2"/>
<rect x="130.2" y="435.3" width="20.50" height="26.20" fill="#9fbfe2" stroke="#333333" stroke-width="1.1"/>
<line x1="130.2" y1="449.0" x2="150.7" y2="449.0" stroke="#2a2a2a" stroke-width="2"/>
<line x1="253.2" y1="513.8" x2="253.2" y2="640.9" stroke="#333333" stroke-width="1.2"/>
<rect x="243.5" y="553.6" width="20.00" height="46.80" fill="#28436f" stroke="#333333" stroke-width="1.1"/>
<line x1="243.5" y1="581.8" x2="263.5" y2="581.8" stroke="#2a2a2a" stroke-width="2"/>
<circle cx="126.3" cy="448.6" r="2.3" fill="#000"/>
<circle cx="123.0" cy="409.1" r="2.75" fill="#a3c2e4" fill-opacity="0.9"/>
<circle cx="136.2" cy="406.9" r="2.75" fill="#a3c2e4" fill-opacity="0.9"/>
<circle cx="121.0" cy="416.0" r="2.75" fill="#a3c2e4" fill-opacity="0.9"/>
<circle cx="128.1" cy="417.0" r="2.75" fill="#a3c2e4" fill-opacity="0.9"/>
<circle cx="135.5" cy="421.3" r="2.75" fill="#a3c2e4" fill-opacity="0.9"/>
<circle cx="120.2" cy="423.6" r="2.75" fill="#a3c2e4" fill-opacity="0.9"/>
<circle cx="127.1" cy="422.8" r="2.75" fill="#a3c2e4" fill-opacity="0.9"/>
<circle cx="133.2" cy="424.4" r="2.75" fill="#a3c2e4" fill-opacity="0.9"/>
<circle cx="121.0" cy="427.4" r="2.75" fill="#a3c2e4" fill-opacity="0.9"/>
<circle cx="121.4" cy="431.2" r="2.75" fill="#a3c2e4" fill-opacity="0.9"/>
<circle cx="129.4" cy="430.5" r="2.75" fill="#a3c2e4" fill-opacity="0.9"/>
<circle cx="126.3" cy="434.3" r="2.75" fill="#a3c2e4" fill-opacity="0.9"/>
<circle cx="131.6" cy="433.5" r="2.75" fill="#a3c2e4" fill-opacity="0.9"/>
<circle cx="121.8" cy="439.6" r="2.75" fill="#a3c2e4" fill-opacity="0.9"/>
<circle cx="118.7" cy="443.4" r="2.75" fill="#a3c2e4" fill-opacity="0.9"/>
<circle cx="124.8" cy="438.0" r="2.75" fill="#a3c2e4" fill-opacity="0.9"/>
<circle cx="127.8" cy="440.4" r="2.75" fill="#a3c2e4" fill-opacity="0.9"/>
<circle cx="120.2" cy="448.7" r="2.75" fill="#a3c2e4" fill-opacity="0.9"/>
<circle cx="123.3" cy="451.0" r="2.75" fill="#a3c2e4" fill-opacity="0.9"/>
<circle cx="126.3" cy="446.4" r="2.75" fill="#a3c2e4" fill-opacity="0.9"/>
<circle cx="132.4" cy="451.0" r="2.75" fill="#a3c2e4" fill-opacity="0.9"/>
<circle cx="120.2" cy="457.9" r="2.75" fill="#a3c2e4" fill-opacity="0.9"/>
<circle cx="124.8" cy="458.6" r="2.75" fill="#a3c2e4" fill-opacity="0.9"/>
<circle cx="128.6" cy="457.9" r="2.75" fill="#a3c2e4" fill-opacity="0.9"/>
<circle cx="134.7" cy="462.4" r="2.75" fill="#a3c2e4" fill-opacity="0.9"/>
<circle cx="132.4" cy="465.5" r="2.75" fill="#a3c2e4" fill-opacity="0.9"/>
<circle cx="121.0" cy="467.0" r="2.75" fill="#a3c2e4" fill-opacity="0.9"/>
<circle cx="124.0" cy="467.8" r="2.75" fill="#a3c2e4" fill-opacity="0.9"/>
<circle cx="122.5" cy="471.6" r="2.75" fill="#a3c2e4" fill-opacity="0.9"/>
<circle cx="132.4" cy="471.3" r="2.75" fill="#a3c2e4" fill-opacity="0.9"/>
<circle cx="120.2" cy="478.4" r="2.75" fill="#a3c2e4" fill-opacity="0.9"/>
<circle cx="121.0" cy="480.7" r="2.75" fill="#a3c2e4" fill-opacity="0.9"/>
<circle cx="128.6" cy="481.5" r="2.75" fill="#a3c2e4" fill-opacity="0.9"/>
<circle cx="126.3" cy="483.8" r="2.75" fill="#a3c2e4" fill-opacity="0.9"/>
<circle cx="124.0" cy="489.8" r="2.75" fill="#a3c2e4" fill-opacity="0.9"/>
<circle cx="130.9" cy="491.4" r="2.75" fill="#a3c2e4" fill-opacity="0.9"/>
<circle cx="120.2" cy="499.7" r="2.75" fill="#a3c2e4" fill-opacity="0.9"/>
<circle cx="129.0" cy="444.0" r="2.75" fill="#a3c2e4" fill-opacity="0.9"/>
<circle cx="131.0" cy="441.0" r="2.75" fill="#a3c2e4" fill-opacity="0.9"/>
<circle cx="134.0" cy="446.0" r="2.75" fill="#a3c2e4" fill-opacity="0.9"/>
<circle cx="133.0" cy="456.0" r="2.75" fill="#a3c2e4" fill-opacity="0.9"/>
<circle cx="129.5" cy="453.0" r="2.75" fill="#a3c2e4" fill-opacity="0.9"/>
<circle cx="125.0" cy="443.0" r="2.75" fill="#a3c2e4" fill-opacity="0.9"/>
<circle cx="122.0" cy="445.0" r="2.75" fill="#a3c2e4" fill-opacity="0.9"/>
<circle cx="130.0" cy="437.0" r="2.75" fill="#a3c2e4" fill-opacity="0.9"/>
<circle cx="135.0" cy="438.0" r="2.75" fill="#a3c2e4" fill-opacity="0.9"/>
<circle cx="130.5" cy="460.0" r="2.75" fill="#a3c2e4" fill-opacity="0.9"/>
<circle cx="127.0" cy="462.0" r="2.75" fill="#a3c2e4" fill-opacity="0.9"/>
<circle cx="119.0" cy="446.0" r="2.75" fill="#a3c2e4" fill-opacity="0.9"/>
<circle cx="123.0" cy="455.0" r="2.75" fill="#a3c2e4" fill-opacity="0.9"/>
<circle cx="126.5" cy="453.5" r="2.75" fill="#a3c2e4" fill-opacity="0.9"/>
<circle cx="129.0" cy="456.5" r="2.75" fill="#a3c2e4" fill-opacity="0.9"/>
<circle cx="125.0" cy="457.0" r="2.75" fill="#a3c2e4" fill-opacity="0.9"/>
<circle cx="240.4" cy="581.3" r="2.3" fill="#000"/>
<circle cx="243.9" cy="513.1" r="2.75" fill="#2e4b7e" fill-opacity="0.92"/>
<circle cx="244.5" cy="521.3" r="2.75" fill="#2e4b7e" fill-opacity="0.92"/>
<circle cx="246.5" cy="525.3" r="2.75" fill="#2e4b7e" fill-opacity="0.92"/>
<circle cx="239.8" cy="527.4" r="2.75" fill="#2e4b7e" fill-opacity="0.92"/>
<circle cx="238.4" cy="531.4" r="2.75" fill="#2e4b7e" fill-opacity="0.92"/>
<circle cx="233.3" cy="535.5" r="2.75" fill="#2e4b7e" fill-opacity="0.92"/>
<circle cx="242.5" cy="537.1" r="2.75" fill="#2e4b7e" fill-opacity="0.92"/>
<circle cx="232.3" cy="541.2" r="2.75" fill="#2e4b7e" fill-opacity="0.92"/>
<circle cx="237.4" cy="542.6" r="2.75" fill="#2e4b7e" fill-opacity="0.92"/>
<circle cx="236.4" cy="546.7" r="2.75" fill="#2e4b7e" fill-opacity="0.92"/>
<circle cx="241.4" cy="544.7" r="2.75" fill="#2e4b7e" fill-opacity="0.92"/>
<circle cx="248.0" cy="546.1" r="2.75" fill="#2e4b7e" fill-opacity="0.92"/>
<circle cx="232.3" cy="551.8" r="2.75" fill="#2e4b7e" fill-opacity="0.92"/>
<circle cx="235.3" cy="552.2" r="2.75" fill="#2e4b7e" fill-opacity="0.92"/>
<circle cx="239.4" cy="549.7" r="2.75" fill="#2e4b7e" fill-opacity="0.92"/>
<circle cx="231.3" cy="556.9" r="2.75" fill="#2e4b7e" fill-opacity="0.92"/>
<circle cx="238.4" cy="556.9" r="2.75" fill="#2e4b7e" fill-opacity="0.92"/>
<circle cx="243.5" cy="553.8" r="2.75" fill="#2e4b7e" fill-opacity="0.92"/>
<circle cx="231.3" cy="565.0" r="2.75" fill="#2e4b7e" fill-opacity="0.92"/>
<circle cx="232.3" cy="569.1" r="2.75" fill="#2e4b7e" fill-opacity="0.92"/>
<circle cx="237.4" cy="570.1" r="2.75" fill="#2e4b7e" fill-opacity="0.92"/>
<circle cx="239.4" cy="573.1" r="2.75" fill="#2e4b7e" fill-opacity="0.92"/>
<circle cx="235.3" cy="576.2" r="2.75" fill="#2e4b7e" fill-opacity="0.92"/>
<circle cx="232.3" cy="585.3" r="2.75" fill="#2e4b7e" fill-opacity="0.92"/>
<circle cx="237.4" cy="583.3" r="2.75" fill="#2e4b7e" fill-opacity="0.92"/>
<circle cx="240.4" cy="587.4" r="2.75" fill="#2e4b7e" fill-opacity="0.92"/>
<circle cx="235.3" cy="593.5" r="2.75" fill="#2e4b7e" fill-opacity="0.92"/>
<circle cx="233.3" cy="594.5" r="2.75" fill="#2e4b7e" fill-opacity="0.92"/>
<circle cx="237.4" cy="598.6" r="2.75" fill="#2e4b7e" fill-opacity="0.92"/>
<circle cx="241.4" cy="594.5" r="2.75" fill="#2e4b7e" fill-opacity="0.92"/>
<circle cx="247.5" cy="596.5" r="2.75" fill="#2e4b7e" fill-opacity="0.92"/>
<circle cx="232.3" cy="605.7" r="2.75" fill="#2e4b7e" fill-opacity="0.92"/>
<circle cx="232.3" cy="610.8" r="2.75" fill="#2e4b7e" fill-opacity="0.92"/>
<circle cx="239.4" cy="606.7" r="2.75" fill="#2e4b7e" fill-opacity="0.92"/>
<circle cx="242.5" cy="607.7" r="2.75" fill="#2e4b7e" fill-opacity="0.92"/>
<circle cx="245.5" cy="609.7" r="2.75" fill="#2e4b7e" fill-opacity="0.92"/>
<circle cx="246.5" cy="614.8" r="2.75" fill="#2e4b7e" fill-opacity="0.92"/>
<circle cx="242.5" cy="616.9" r="2.75" fill="#2e4b7e" fill-opacity="0.92"/>
<circle cx="243.5" cy="618.9" r="2.75" fill="#2e4b7e" fill-opacity="0.92"/>
<circle cx="235.3" cy="623.0" r="2.75" fill="#2e4b7e" fill-opacity="0.92"/>
<circle cx="234.3" cy="627.0" r="2.75" fill="#2e4b7e" fill-opacity="0.92"/>
<circle cx="244.5" cy="626.6" r="2.75" fill="#2e4b7e" fill-opacity="0.92"/>
<circle cx="239.4" cy="640.9" r="2.75" fill="#2e4b7e" fill-opacity="0.92"/>
<circle cx="246.0" cy="560.0" r="2.75" fill="#2e4b7e" fill-opacity="0.92"/>
<circle cx="247.0" cy="567.0" r="2.75" fill="#2e4b7e" fill-opacity="0.92"/>
<circle cx="245.0" cy="575.0" r="2.75" fill="#2e4b7e" fill-opacity="0.92"/>
<circle cx="246.5" cy="585.0" r="2.75" fill="#2e4b7e" fill-opacity="0.92"/>
<circle cx="244.0" cy="590.0" r="2.75" fill="#2e4b7e" fill-opacity="0.92"/>
<circle cx="247.0" cy="601.0" r="2.75" fill="#2e4b7e" fill-opacity="0.92"/>
<circle cx="245.5" cy="570.0" r="2.75" fill="#2e4b7e" fill-opacity="0.92"/>
<circle cx="243.0" cy="580.0" r="2.75" fill="#2e4b7e" fill-opacity="0.92"/>
<circle cx="241.0" cy="562.0" r="2.75" fill="#2e4b7e" fill-opacity="0.92"/>
<circle cx="244.0" cy="600.0" r="2.75" fill="#2e4b7e" fill-opacity="0.92"/>
<rect x="60.3" y="395.8" width="260.20" height="256.20" fill="none" stroke="#7a7a7a" stroke-width="1.1"/>
<line x1="141.1" y1="403.7" x2="246.0" y2="403.7" stroke="#1a1a1a" stroke-width="1.6"/>
<line x1="186.90" y1="411.20" x2="186.90" y2="417.60" stroke="#111" stroke-width="1.25"/>
<line x1="184.13" y1="412.80" x2="189.67" y2="416.00" stroke="#111" stroke-width="1.25"/>
<line x1="184.13" y1="416.00" x2="189.67" y2="412.80" stroke="#111" stroke-width="1.25"/>
<line x1="195.30" y1="411.20" x2="195.30" y2="417.60" stroke="#111" stroke-width="1.25"/>
<line x1="192.53" y1="412.80" x2="198.07" y2="416.00" stroke="#111" stroke-width="1.25"/>
<line x1="192.53" y1="416.00" x2="198.07" y2="412.80" stroke="#111" stroke-width="1.25"/>
<line x1="203.80" y1="411.20" x2="203.80" y2="417.60" stroke="#111" stroke-width="1.25"/>
<line x1="201.03" y1="412.80" x2="206.57" y2="416.00" stroke="#111" stroke-width="1.25"/>
<line x1="201.03" y1="416.00" x2="206.57" y2="412.80" stroke="#111" stroke-width="1.25"/>
<line x1="212.40" y1="411.20" x2="212.40" y2="417.60" stroke="#111" stroke-width="1.25"/>
<line x1="209.63" y1="412.80" x2="215.17" y2="416.00" stroke="#111" stroke-width="1.25"/>
<line x1="209.63" y1="416.00" x2="215.17" y2="412.80" stroke="#111" stroke-width="1.25"/>
<line x1="56.8" y1="413.5" x2="60.3" y2="413.5" stroke="#3a3a3a" stroke-width="1.1"/>
<text x="52.9" y="418.5" font-size="10" text-anchor="end" fill="#4d4d4d" stroke="#4d4d4d" stroke-width="0.2">10<tspan font-size="7.6" dy="-4.6">-7</tspan></text>
<line x1="56.8" y1="463.3" x2="60.3" y2="463.3" stroke="#3a3a3a" stroke-width="1.1"/>
<text x="52.9" y="468.3" font-size="10" text-anchor="end" fill="#4d4d4d" stroke="#4d4d4d" stroke-width="0.2">10<tspan font-size="7.6" dy="-4.6">-8</tspan></text>
<line x1="56.8" y1="513.0" x2="60.3" y2="513.0" stroke="#3a3a3a" stroke-width="1.1"/>
<text x="52.9" y="518.0" font-size="10" text-anchor="end" fill="#4d4d4d" stroke="#4d4d4d" stroke-width="0.2">10<tspan font-size="7.6" dy="-4.6">-9</tspan></text>
<line x1="56.8" y1="562.8" x2="60.3" y2="562.8" stroke="#3a3a3a" stroke-width="1.1"/>
<text x="52.9" y="567.8" font-size="10" text-anchor="end" fill="#4d4d4d" stroke="#4d4d4d" stroke-width="0.2">10<tspan font-size="7.6" dy="-4.6">-10</tspan></text>
<line x1="56.8" y1="612.4" x2="60.3" y2="612.4" stroke="#3a3a3a" stroke-width="1.1"/>
<text x="52.9" y="617.4" font-size="10" text-anchor="end" fill="#4d4d4d" stroke="#4d4d4d" stroke-width="0.2">10<tspan font-size="7.6" dy="-4.6">-11</tspan></text>
<line x1="127.0" y1="652.0" x2="127.0" y2="655.0" stroke="#3a3a3a" stroke-width="1.1"/>
<text x="127.0" y="667.5" font-size="10.6" text-anchor="middle" fill="#4d4d4d" stroke="#4d4d4d" stroke-width="0.2">piano</text>
<line x1="239.7" y1="652.0" x2="239.7" y2="655.0" stroke="#3a3a3a" stroke-width="1.1"/>
<text x="239.7" y="667.5" font-size="10.6" text-anchor="middle" fill="#4d4d4d" stroke="#4d4d4d" stroke-width="0.2">violin</text>
<text x="190.1" y="682.0" font-size="13.25" text-anchor="middle" fill="#111" stroke="#111" stroke-width="0.3">musical element</text>
<text transform="translate(25.1,525.0) rotate(-90)" font-size="13.1" text-anchor="middle" fill="#111" stroke="#111" stroke-width="0.3">power density of frequency</text>
<text x="20.4" y="403.6" font-family="&quot;Liberation Serif&quot;, serif" font-weight="bold" font-size="16" fill="#000">e</text>
<line x1="399.5" y1="647.2" x2="670.2" y2="647.2" stroke="#e6e6e6" stroke-width="1"/>
<line x1="399.5" y1="562.0500000000001" x2="670.2" y2="562.0500000000001" stroke="#e6e6e6" stroke-width="1"/>
<line x1="399.5" y1="476.90000000000003" x2="670.2" y2="476.90000000000003" stroke="#e6e6e6" stroke-width="1"/>
<path d="M482.30,407.80 C482.58,407.80 483.67,404.10 484.00,407.80 C484.33,411.50 484.30,422.13 484.30,430.00 C484.30,437.87 483.80,449.00 484.00,455.00 C484.20,461.00 484.83,462.55 485.50,466.00 C486.17,469.45 487.83,472.70 488.00,475.70 C488.17,478.70 487.03,480.78 486.50,484.00 C485.97,487.22 485.12,492.33 484.80,495.00 C484.48,497.67 484.47,495.78 484.60,500.00 C484.73,504.22 484.58,514.53 485.60,520.30 C486.62,526.07 488.67,530.18 490.70,534.60 C492.73,539.02 495.70,543.07 497.80,546.80 C499.90,550.53 502.03,553.95 503.30,557.00 C504.57,560.05 505.30,562.05 505.40,565.10 C505.50,568.15 504.82,571.90 503.90,575.30 C502.98,578.70 500.40,582.45 499.90,585.50 C499.40,588.55 499.88,590.55 500.90,593.60 C501.92,596.65 505.05,601.08 506.00,603.80 C506.95,606.52 507.12,607.53 506.60,609.90 C506.08,612.27 504.87,615.63 502.90,618.00 C500.93,620.37 497.52,622.47 494.80,624.10 C492.08,625.73 488.63,627.18 486.60,627.80 C484.57,628.42 483.27,627.80 482.60,627.80 Z" fill="#bcd3ec"/>
<path d="M600.10,574.10 C601.12,574.10 604.97,573.57 606.20,574.10 C607.43,574.63 607.62,576.12 607.50,577.30 C607.38,578.48 604.63,579.88 605.50,581.20 C606.37,582.52 610.40,583.67 612.70,585.20 C615.00,586.73 617.98,588.22 619.30,590.40 C620.62,592.58 620.17,595.67 620.60,598.30 C621.03,600.93 620.37,604.00 621.90,606.20 C623.43,608.40 626.07,609.97 629.80,611.50 C633.53,613.03 639.92,614.10 644.30,615.40 C648.68,616.70 653.13,617.42 656.10,619.30 C659.07,621.18 661.88,624.72 662.10,626.70 C662.32,628.68 660.82,629.88 657.40,631.20 C653.98,632.52 646.85,633.52 641.60,634.60 C636.35,635.68 630.72,636.73 625.90,637.70 C621.08,638.67 616.22,639.87 612.70,640.40 C609.18,640.93 606.90,640.82 604.80,640.90 C602.70,640.98 600.88,640.90 600.10,640.90 Z" fill="#687c9d"/>
<line x1="483.1" y1="479.0" x2="483.1" y2="627.8" stroke="#333333" stroke-width="1.2"/>
<rect x="472.6" y="552.4" width="21.20" height="48.90" fill="#9fbfe2" stroke="#333333" stroke-width="1.1"/>
<line x1="472.6" y1="576.9" x2="493.8" y2="576.9" stroke="#2a2a2a" stroke-width="2"/>
<line x1="600.1" y1="574.1" x2="600.1" y2="640.9" stroke="#333333" stroke-width="1.2"/>
<rect x="589.6" y="605.4" width="21.30" height="23.10" fill="#28436f" stroke="#333333" stroke-width="1.1"/>
<line x1="589.6" y1="619.9" x2="610.9" y2="619.9" stroke="#2a2a2a" stroke-width="2"/>
<circle cx="469.3" cy="576.9" r="2.3" fill="#000"/>
<circle cx="461.8" cy="407.2" r="2.75" fill="#a3c2e4" fill-opacity="0.9"/>
<circle cx="464.1" cy="426.6" r="2.75" fill="#a3c2e4" fill-opacity="0.9"/>
<circle cx="460.2" cy="451.1" r="2.75" fill="#a3c2e4" fill-opacity="0.9"/>
<circle cx="463.4" cy="474.5" r="2.75" fill="#a3c2e4" fill-opacity="0.9"/>
<circle cx="466.5" cy="478.4" r="2.75" fill="#a3c2e4" fill-opacity="0.9"/>
<circle cx="475.1" cy="481.2" r="2.75" fill="#a3c2e4" fill-opacity="0.9"/>
<circle cx="475.8" cy="497.8" r="2.75" fill="#a3c2e4" fill-opacity="0.9"/>
<circle cx="466.0" cy="504.1" r="2.75" fill="#a3c2e4" fill-opacity="0.9"/>
<circle cx="471.1" cy="516.3" r="2.75" fill="#a3c2e4" fill-opacity="0.9"/>
<circle cx="469.3" cy="538.0" r="2.75" fill="#a3c2e4" fill-opacity="0.9"/>
<circle cx="474.2" cy="543.8" r="2.75" fill="#a3c2e4" fill-opacity="0.9"/>
<circle cx="470.4" cy="550.5" r="2.75" fill="#a3c2e4" fill-opacity="0.9"/>
<circle cx="463.2" cy="554.9" r="2.75" fill="#a3c2e4" fill-opacity="0.9"/>
<circle cx="462.2" cy="558.0" r="2.75" fill="#a3c2e4" fill-opacity="0.9"/>
<circle cx="462.6" cy="564.7" r="2.75" fill="#a3c2e4" fill-opacity="0.9"/>
<circle cx="468.3" cy="564.7" r="2.75" fill="#a3c2e4" fill-opacity="0.9"/>
<circle cx="462.2" cy="576.9" r="2.75" fill="#a3c2e4" fill-opacity="0.9"/>
<circle cx="466.3" cy="577.3" r="2.75" fill="#a3c2e4" fill-opacity="0.9"/>
<circle cx="463.2" cy="585.5" r="2.75" fill="#a3c2e4" fill-opacity="0.9"/>
<circle cx="469.3" cy="587.9" r="2.75" fill="#a3c2e4" fill-opacity="0.9"/>
<circle cx="461.2" cy="601.7" r="2.75" fill="#a3c2e4" fill-opacity="0.9"/>
<circle cx="466.3" cy="601.7" r="2.75" fill="#a3c2e4" fill-opacity="0.9"/>
<circle cx="470.4" cy="598.7" r="2.75" fill="#a3c2e4" fill-opacity="0.9"/>
<circle cx="462.2" cy="606.8" r="2.75" fill="#a3c2e4" fill-opacity="0.9"/>
<circle cx="463.2" cy="610.9" r="2.75" fill="#a3c2e4" fill-opacity="0.9"/>
<circle cx="470.4" cy="611.5" r="2.75" fill="#a3c2e4" fill-opacity="0.9"/>
<circle cx="472.4" cy="607.9" r="2.75" fill="#a3c2e4" fill-opacity="0.9"/>
<circle cx="477.5" cy="605.8" r="2.75" fill="#a3c2e4" fill-opacity="0.9"/>
<circle cx="477.5" cy="611.9" r="2.75" fill="#a3c2e4" fill-opacity="0.9"/>
<circle cx="463.2" cy="617.0" r="2.75" fill="#a3c2e4" fill-opacity="0.9"/>
<circle cx="470.4" cy="622.1" r="2.75" fill="#a3c2e4" fill-opacity="0.9"/>
<circle cx="470.4" cy="627.8" r="2.75" fill="#a3c2e4" fill-opacity="0.9"/>
<circle cx="465.9" cy="504.1" r="2.75" fill="#a3c2e4" fill-opacity="0.9"/>
<circle cx="471.4" cy="515.9" r="2.75" fill="#a3c2e4" fill-opacity="0.9"/>
<circle cx="473.0" cy="560.0" r="2.75" fill="#a3c2e4" fill-opacity="0.9"/>
<circle cx="474.0" cy="571.0" r="2.75" fill="#a3c2e4" fill-opacity="0.9"/>
<circle cx="473.5" cy="590.0" r="2.75" fill="#a3c2e4" fill-opacity="0.9"/>
<circle cx="475.0" cy="595.0" r="2.75" fill="#a3c2e4" fill-opacity="0.9"/>
<circle cx="587.0" cy="622.0" r="2.3" fill="#000"/>
<circle cx="593.0" cy="574.1" r="2.75" fill="#2e4b7e" fill-opacity="0.92"/>
<circle cx="595.6" cy="572.6" r="2.75" fill="#2e4b7e" fill-opacity="0.92"/>
<circle cx="578.0" cy="587.8" r="2.75" fill="#2e4b7e" fill-opacity="0.92"/>
<circle cx="585.1" cy="586.5" r="2.75" fill="#2e4b7e" fill-opacity="0.92"/>
<circle cx="589.1" cy="589.1" r="2.75" fill="#2e4b7e" fill-opacity="0.92"/>
<circle cx="577.3" cy="592.5" r="2.75" fill="#2e4b7e" fill-opacity="0.92"/>
<circle cx="583.3" cy="595.2" r="2.75" fill="#2e4b7e" fill-opacity="0.92"/>
<circle cx="589.1" cy="597.0" r="2.75" fill="#2e4b7e" fill-opacity="0.92"/>
<circle cx="591.7" cy="600.4" r="2.75" fill="#2e4b7e" fill-opacity="0.92"/>
<circle cx="582.5" cy="604.9" r="2.75" fill="#2e4b7e" fill-opacity="0.92"/>
<circle cx="578.0" cy="608.8" r="2.75" fill="#2e4b7e" fill-opacity="0.92"/>
<circle cx="586.5" cy="606.2" r="2.75" fill="#2e4b7e" fill-opacity="0.92"/>
<circle cx="594.3" cy="604.1" r="2.75" fill="#2e4b7e" fill-opacity="0.92"/>
<circle cx="585.1" cy="614.1" r="2.75" fill="#2e4b7e" fill-opacity="0.92"/>
<circle cx="579.9" cy="620.6" r="2.75" fill="#2e4b7e" fill-opacity="0.92"/>
<circle cx="583.8" cy="623.3" r="2.75" fill="#2e4b7e" fill-opacity="0.92"/>
<circle cx="589.1" cy="619.3" r="2.75" fill="#2e4b7e" fill-opacity="0.92"/>
<circle cx="578.6" cy="625.9" r="2.75" fill="#2e4b7e" fill-opacity="0.92"/>
<circle cx="583.8" cy="629.3" r="2.75" fill="#2e4b7e" fill-opacity="0.92"/>
<circle cx="589.1" cy="629.8" r="2.75" fill="#2e4b7e" fill-opacity="0.92"/>
<circle cx="578.6" cy="633.0" r="2.75" fill="#2e4b7e" fill-opacity="0.92"/>
<circle cx="585.1" cy="636.4" r="2.75" fill="#2e4b7e" fill-opacity="0.92"/>
<circle cx="590.4" cy="635.1" r="2.75" fill="#2e4b7e" fill-opacity="0.92"/>
<circle cx="578.6" cy="640.4" r="2.75" fill="#2e4b7e" fill-opacity="0.92"/>
<circle cx="588.6" cy="640.9" r="2.75" fill="#2e4b7e" fill-opacity="0.92"/>
<circle cx="593.0" cy="622.0" r="2.75" fill="#2e4b7e" fill-opacity="0.92"/>
<circle cx="594.3" cy="627.2" r="2.75" fill="#2e4b7e" fill-opacity="0.92"/>
<circle cx="591.0" cy="612.0" r="2.75" fill="#2e4b7e" fill-opacity="0.92"/>
<circle cx="592.0" cy="616.0" r="2.75" fill="#2e4b7e" fill-opacity="0.92"/>
<circle cx="590.0" cy="625.0" r="2.75" fill="#2e4b7e" fill-opacity="0.92"/>
<circle cx="586.0" cy="618.0" r="2.75" fill="#2e4b7e" fill-opacity="0.92"/>
<circle cx="581.0" cy="614.0" r="2.75" fill="#2e4b7e" fill-opacity="0.92"/>
<circle cx="592.0" cy="632.0" r="2.75" fill="#2e4b7e" fill-opacity="0.92"/>
<circle cx="594.0" cy="610.0" r="2.75" fill="#2e4b7e" fill-opacity="0.92"/>
<rect x="399.5" y="395.6" width="270.70" height="256.60" fill="none" stroke="#7a7a7a" stroke-width="1.1"/>
<line x1="486.1" y1="404.5" x2="593.9" y2="404.5" stroke="#1a1a1a" stroke-width="1.6"/>
<line x1="529.00" y1="412.40" x2="529.00" y2="418.80" stroke="#111" stroke-width="1.25"/>
<line x1="526.23" y1="414.00" x2="531.77" y2="417.20" stroke="#111" stroke-width="1.25"/>
<line x1="526.23" y1="417.20" x2="531.77" y2="414.00" stroke="#111" stroke-width="1.25"/>
<line x1="537.40" y1="412.40" x2="537.40" y2="418.80" stroke="#111" stroke-width="1.25"/>
<line x1="534.63" y1="414.00" x2="540.17" y2="417.20" stroke="#111" stroke-width="1.25"/>
<line x1="534.63" y1="417.20" x2="540.17" y2="414.00" stroke="#111" stroke-width="1.25"/>
<line x1="545.80" y1="412.40" x2="545.80" y2="418.80" stroke="#111" stroke-width="1.25"/>
<line x1="543.03" y1="414.00" x2="548.57" y2="417.20" stroke="#111" stroke-width="1.25"/>
<line x1="543.03" y1="417.20" x2="548.57" y2="414.00" stroke="#111" stroke-width="1.25"/>
<line x1="554.30" y1="412.40" x2="554.30" y2="418.80" stroke="#111" stroke-width="1.25"/>
<line x1="551.53" y1="414.00" x2="557.07" y2="417.20" stroke="#111" stroke-width="1.25"/>
<line x1="551.53" y1="417.20" x2="557.07" y2="414.00" stroke="#111" stroke-width="1.25"/>
<line x1="396.0" y1="647.2" x2="399.5" y2="647.2" stroke="#3a3a3a" stroke-width="1.1"/>
<text x="393.0" y="651.8" font-size="10" text-anchor="end" fill="#4d4d4d" stroke="#4d4d4d" stroke-width="0.2">0</text>
<line x1="396.0" y1="562.1" x2="399.5" y2="562.1" stroke="#3a3a3a" stroke-width="1.1"/>
<text x="393.0" y="566.7" font-size="10" text-anchor="end" fill="#4d4d4d" stroke="#4d4d4d" stroke-width="0.2">20</text>
<line x1="396.0" y1="476.9" x2="399.5" y2="476.9" stroke="#3a3a3a" stroke-width="1.1"/>
<text x="393.0" y="481.5" font-size="10" text-anchor="end" fill="#4d4d4d" stroke="#4d4d4d" stroke-width="0.2">40</text>
<line x1="469.3" y1="652.2" x2="469.3" y2="655.2" stroke="#3a3a3a" stroke-width="1.1"/>
<text x="469.3" y="667.5" font-size="10.6" text-anchor="middle" fill="#4d4d4d" stroke="#4d4d4d" stroke-width="0.2">piano</text>
<line x1="586.4" y1="652.2" x2="586.4" y2="655.2" stroke="#3a3a3a" stroke-width="1.1"/>
<text x="586.4" y="667.5" font-size="10.6" text-anchor="middle" fill="#4d4d4d" stroke="#4d4d4d" stroke-width="0.2">violin</text>
<text x="534.8" y="682.0" font-size="13.25" text-anchor="middle" fill="#111" stroke="#111" stroke-width="0.3">musical element</text>
<text transform="translate(374.8,523.9) rotate(-90)" font-size="13.3" text-anchor="middle" fill="#111" stroke="#111" stroke-width="0.3">The Roughness (a.u.)</text>
<text x="358.3" y="403.8" font-family="&quot;Liberation Serif&quot;, serif" font-weight="bold" font-size="16" fill="#000">f</text>
</svg>
</body></html>
